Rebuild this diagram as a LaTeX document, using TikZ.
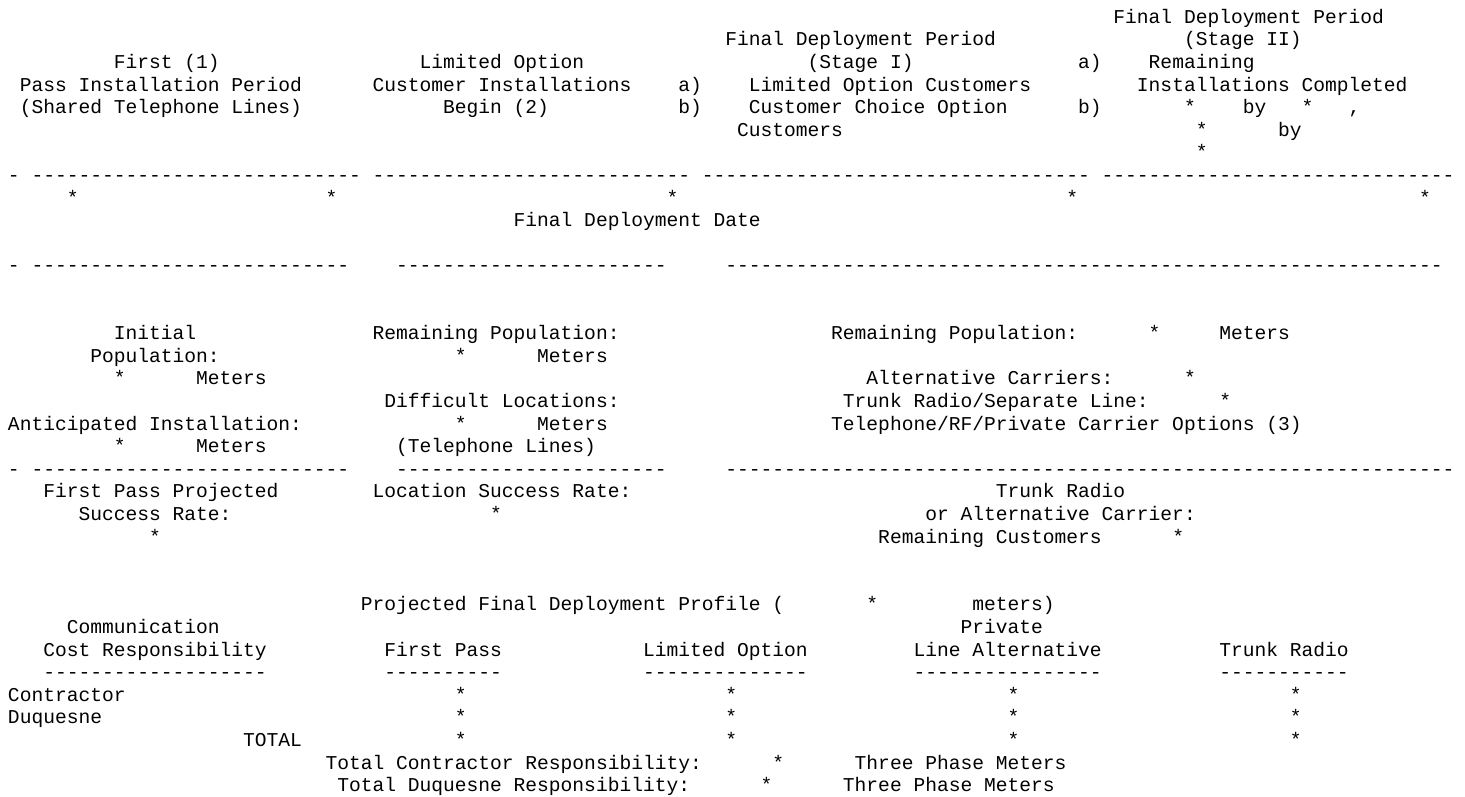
\documentclass[tikz,border=0pt]{standalone}
\usepackage{fontspec}
\setmonofont{Liberation Mono}
\ExplSyntaxOn
\cs_new:Npn \mydashes #1 {\prg_replicate:nn{#1}{-}}
\ExplSyntaxOff
\newcommand{\tx}[4]{\node[txt] (#1) at ({8+#2*11.76}, {-(23.2+22.6*#3)}) {#4};}
\tikzset{txt/.style={anchor=base west, inner sep=0pt, outer sep=0pt, text=black, font=\fontsize{19.6pt}{22.6pt}\selectfont\ttfamily}}
\begin{document}
\begin{tikzpicture}[x=1pt,y=1pt]
\fill[white] (0,0) rectangle (1465,-796);
\useasboundingbox (0,0) rectangle (1465,-796);
% header rows
\tx{h0a}{94}{0}{Final Deployment Period}
\tx{h1a}{61}{1}{Final Deployment Period}
\tx{h1b}{100}{1}{(Stage II)}
\tx{h2a}{9}{2}{First (1)}
\tx{h2b}{35}{2}{Limited Option}
\tx{h2c}{68}{2}{(Stage I)}
\tx{h2d}{91}{2}{a)}
\tx{h2e}{97}{2}{Remaining}
\tx{h3a}{1}{3}{Pass Installation Period}
\tx{h3b}{31}{3}{Customer Installations}
\tx{h3c}{57}{3}{a)}
\tx{h3d}{63}{3}{Limited Option Customers}
\tx{h3e}{96}{3}{Installations Completed}
\tx{h4a}{1}{4}{(Shared Telephone Lines)}
\tx{h4b}{37}{4}{Begin (2)}
\tx{h4c}{57}{4}{b)}
\tx{h4d}{63}{4}{Customer Choice Option}
\tx{h4e}{91}{4}{b)}
\tx{h4f}{100}{4}{*}
\tx{h4g}{105}{4}{by}
\tx{h4h}{110}{4}{*}
\tx{h4i}{114}{4}{,}
\tx{h5a}{62}{5}{Customers}
\tx{h5b}{101}{5}{*}
\tx{h5c}{108}{5}{by}
\tx{h6a}{101}{6}{*}
% timeline
\tx{d7a}{0}{7}{-}
\tx{d7b}{2}{7}{\mydashes{28}}
\tx{d7c}{31}{7}{\mydashes{27}}
\tx{d7d}{59}{7}{\mydashes{33}}
\tx{d7e}{93}{7}{\mydashes{30}}
\tx{s8a}{5}{8}{*}
\tx{s8b}{27}{8}{*}
\tx{s8c}{56}{8}{*}
\tx{s8d}{90}{8}{*}
\tx{s8e}{120}{8}{*}
\tx{fdd}{43}{9}{Final Deployment Date}
\tx{d11a}{0}{11}{-}
\tx{d11b}{2}{11}{\mydashes{27}}
\tx{d11c}{33}{11}{\mydashes{23}}
\tx{d11d}{61}{11}{\mydashes{61}}
% population block
\tx{p14a}{9}{14}{Initial}
\tx{p14b}{31}{14}{Remaining Population:}
\tx{p14c}{70}{14}{Remaining Population:}
\tx{p14d}{97}{14}{*}
\tx{p14e}{103}{14}{Meters}
\tx{p15a}{7}{15}{Population:}
\tx{p15b}{38}{15}{*}
\tx{p15c}{45}{15}{Meters}
\tx{p16a}{9}{16}{*}
\tx{p16b}{16}{16}{Meters}
\tx{p16c}{73}{16}{Alternative Carriers:}
\tx{p16d}{100}{16}{*}
\tx{p17a}{32}{17}{Difficult Locations:}
\tx{p17b}{71}{17}{Trunk Radio/Separate Line:}
\tx{p17c}{103}{17}{*}
\tx{p18a}{0}{18}{Anticipated Installation:}
\tx{p18b}{38}{18}{*}
\tx{p18c}{45}{18}{Meters}
\tx{p18d}{70}{18}{Telephone/RF/Private Carrier Options (3)}
\tx{p19a}{9}{19}{*}
\tx{p19b}{16}{19}{Meters}
\tx{p19c}{33}{19}{(Telephone Lines)}
\tx{d20a}{0}{20}{-}
\tx{d20b}{2}{20}{\mydashes{27}}
\tx{d20c}{33}{20}{\mydashes{23}}
\tx{d20d}{61}{20}{\mydashes{62}}
\tx{r21a}{3}{21}{First Pass Projected}
\tx{r21b}{31}{21}{Location Success Rate:}
\tx{r21c}{84}{21}{Trunk Radio}
\tx{r22a}{6}{22}{Success Rate:}
\tx{r22b}{41}{22}{*}
\tx{r22c}{78}{22}{or Alternative Carrier:}
\tx{r23a}{12}{23}{*}
\tx{r23b}{74}{23}{Remaining Customers}
\tx{r23c}{99}{23}{*}
% profile table
\tx{t26a}{30}{26}{Projected Final Deployment Profile (}
\tx{t26b}{73}{26}{*}
\tx{t26c}{82}{26}{meters)}
\tx{t27a}{5}{27}{Communication}
\tx{t27b}{81}{27}{Private}
\tx{t28a}{3}{28}{Cost Responsibility}
\tx{t28b}{32}{28}{First Pass}
\tx{t28c}{54}{28}{Limited Option}
\tx{t28d}{77}{28}{Line Alternative}
\tx{t28e}{103}{28}{Trunk Radio}
\tx{t29a}{3}{29}{\mydashes{19}}
\tx{t29b}{32}{29}{\mydashes{10}}
\tx{t29c}{54}{29}{\mydashes{14}}
\tx{t29d}{77}{29}{\mydashes{16}}
\tx{t29e}{103}{29}{\mydashes{11}}
\tx{t30a}{0}{30}{Contractor}
\tx{t30b}{38}{30}{*}
\tx{t30c}{61}{30}{*}
\tx{t30d}{85}{30}{*}
\tx{t30e}{109}{30}{*}
\tx{t31a}{0}{31}{Duquesne}
\tx{t31b}{38}{31}{*}
\tx{t31c}{61}{31}{*}
\tx{t31d}{85}{31}{*}
\tx{t31e}{109}{31}{*}
\tx{t32a}{20}{32}{TOTAL}
\tx{t32b}{38}{32}{*}
\tx{t32c}{61}{32}{*}
\tx{t32d}{85}{32}{*}
\tx{t32e}{109}{32}{*}
\tx{t33a}{27}{33}{Total Contractor Responsibility:}
\tx{t33b}{65}{33}{*}
\tx{t33c}{72}{33}{Three Phase Meters}
\tx{t34a}{28}{34}{Total Duquesne Responsibility:}
\tx{t34b}{64}{34}{*}
\tx{t34c}{71}{34}{Three Phase Meters}
\end{tikzpicture}
\end{document}
